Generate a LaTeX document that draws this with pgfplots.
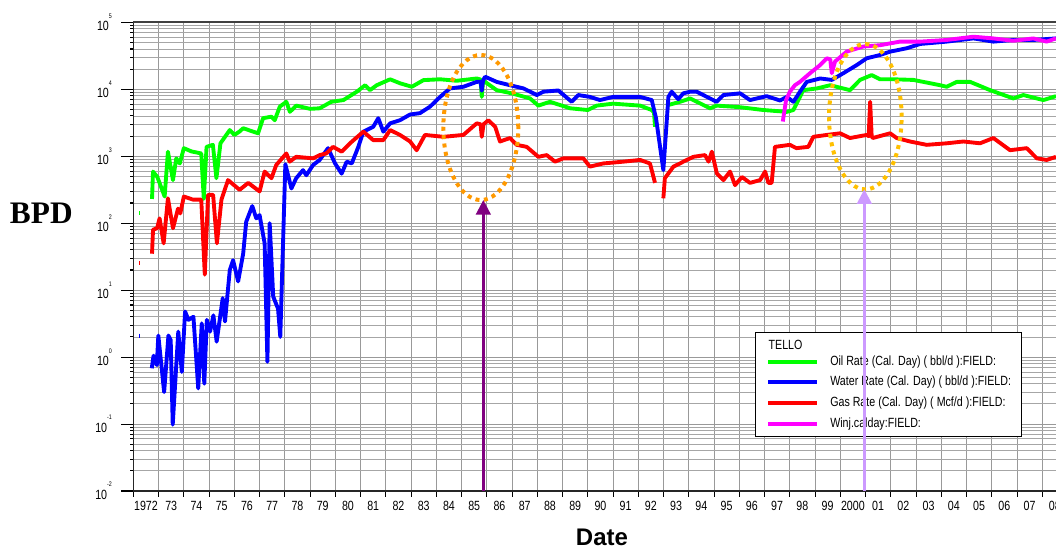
\documentclass[border=0pt]{standalone}
\usepackage{fontspec}
\setmainfont{Liberation Sans}
\newfontfamily\narrowfont{Liberation Sans}[FakeStretch=0.8]
\newfontfamily\bpdfont{Liberation Serif}
\usepackage{pgfplots}
\pgfplotsset{compat=1.18}
\usetikzlibrary{arrows.meta}
\definecolor{oilc}{RGB}{0,255,0}
\definecolor{watc}{RGB}{0,0,255}
\definecolor{gasc}{RGB}{255,0,0}
\definecolor{winc}{RGB}{255,0,255}
\definecolor{orac}{RGB}{255,153,0}
\definecolor{yelc}{RGB}{255,192,0}
\definecolor{purc}{RGB}{128,0,128}
\definecolor{lavc}{RGB}{204,153,255}
\newcommand{\tl}{\narrowfont\fontsize{10}{12}\selectfont}
\newcommand{\ex}[1]{10\raisebox{9.5pt}{\fontsize{5}{6}\selectfont #1}}
\begin{document}
\begin{tikzpicture}
\begin{axis}[
  name=ax, scale only axis, width=692pt, height=351.5pt,
  ymode=log, xmin=1972, xmax=2008.54, ymin=1e-2, ymax=1e5,
  axis lines*=left, axis line style={-, black!85, line width=1.1pt},
  tick align=outside,
  xtick={1972,...,2008},
  xticklabels={1972,73,74,75,76,77,78,79,80,81,82,83,84,85,86,87,88,89,90,91,92,93,94,95,96,97,98,99,2000,01,02,03,04,05,06,07,08},
  minor x tick num=1,
  ytick={1e-2,1e-1,1,1e1,1e2,1e3,1e4,1e5},
  yticklabels={\ex{-2},\ex{-1},\ex{0},\ex{1},\ex{2},\ex{3},\ex{4},\ex{5}},
  major tick length=4.3pt, minor tick length=2.3pt,
  tick style={black, line width=0.8pt},
  grid=both, xminorgrids=false,
  major grid style={gray!80, line width=0.6pt},
  minor grid style={gray!70, line width=0.6pt},
  xticklabel style={font=\tl, xshift=9.47pt},
  yticklabel style={font=\tl, anchor=east, xshift=-8.25pt},
  unbounded coords=jump,
  every axis plot/.append style={line width=2.9pt, line join=round},
]
% Oil
\addplot[oilc] coordinates {(1972.74,230) (1972.78,590) (1972.95,490) (1973.24,250) (1973.37,1170) (1973.57,440) (1973.70,930) (1973.84,780) (1974.0,1320) (1974.3,1180) (1974.69,1100) (1974.79,230) (1974.9,1380) (1975.15,1480) (1975.29,470) (1975.45,1560) (1975.82,2460) (1976.0,2080) (1976.2,2330) (1976.35,2620) (1976.94,2200) (1977.14,3700) (1977.47,3900) (1977.6,3450) (1977.8,5500) (1978.06,6500) (1978.2,4600) (1978.45,5700) (1979.0,5100) (1979.38,5200) (1979.84,6500) (1980.32,6900) (1980.85,9200) (1981.18,11500) (1981.37,9700) (1981.64,11500) (1982.17,14100) (1982.56,12300) (1983.03,10900) (1983.49,13700) (1984.15,14100) (1984.81,13400) (1985.6,14500) (1985.75,14000) (1985.8,7700) (1985.85,13500) (1985.93,12900) (1986.39,9700) (1986.99,8700) (1987.71,7300) (1988.04,5700) (1988.5,6500) (1989.3,5200) (1990.0,4900) (1990.35,5700) (1991.0,6100) (1992.07,5700) (1992.53,4900) (1992.62,4500) (1992.66,2750) (1992.85,nan) (1993.1,5700) (1993.65,6500) (1994.05,7300) (1994.18,6900) (1994.84,5200) (1995.1,5700) (1996.03,5400) (1996.95,4900) (1997.88,4600) (1998.14,4900) (1998.53,9700) (1999.07,10300) (1999.6,11500) (2000.38,9700) (2000.78,13800) (2001.24,16300) (2001.57,14100) (2002.1,14100) (2002.89,13800) (2003.95,11500) (2004.21,10900) (2004.61,12900) (2005.14,12900) (2005.93,9700) (2006.85,7300) (2007.25,8200) (2008.04,6900) (2008.54,7900)};
% Water
\addplot[watc] coordinates {(1972.73,0.68) (1972.8,1.05) (1972.93,0.76) (1972.99,2.1) (1973.22,0.30) (1973.39,2.1) (1973.48,1.8) (1973.56,0.098) (1973.78,2.4) (1973.92,0.60) (1974.05,4.8) (1974.18,3.6) (1974.38,4.0) (1974.57,0.34) (1974.71,3.2) (1974.81,0.40) (1974.91,3.6) (1975.04,2.4) (1975.17,4.2) (1975.3,1.7) (1975.54,7.6) (1975.63,3.4) (1975.82,20) (1975.95,28) (1976.15,13.5) (1976.35,35) (1976.47,105) (1976.71,180) (1976.87,118) (1977.0,132) (1977.2,50) (1977.31,0.85) (1977.4,100) (1977.54,8) (1977.73,5.3) (1977.82,2.0) (1978.02,760) (1978.26,330) (1978.45,470) (1978.72,620) (1978.85,520) (1979.12,740) (1979.38,880) (1979.71,1320) (1979.99,780) (1980.25,550) (1980.45,830) (1980.65,780) (1980.91,1380) (1981.11,2330) (1981.5,2750) (1981.7,3700) (1981.9,2330) (1982.17,3100) (1982.56,3450) (1982.96,4200) (1983.35,4400) (1983.75,5500) (1984.15,7700) (1984.54,10300) (1985.07,10900) (1985.6,12900) (1985.75,13000) (1985.8,9500) (1985.85,13500) (1985.93,15400) (1986.39,12900) (1986.92,11500) (1987.45,10300) (1987.98,8200) (1988.24,9200) (1988.83,9600) (1989.36,6500) (1989.62,8200) (1990.08,7700) (1990.48,6900) (1991.0,7700) (1992.07,7700) (1992.53,6900) (1992.7,3700) (1992.99,620) (1993.19,7700) (1993.32,9200) (1993.58,7100) (1993.78,8700) (1994.05,9200) (1994.31,9200) (1995.1,6500) (1995.37,8200) (1996.03,8700) (1996.42,6900) (1997.08,7900) (1997.61,6800) (1997.88,7700) (1998.14,6500) (1998.4,9200) (1998.67,12900) (1999.2,14500) (1999.66,13800) (2000.12,17400) (2000.65,23000) (2001.04,29000) (2001.57,32500) (2001.97,36500) (2002.63,41000) (2003.16,47500) (2004.21,51500) (2005.27,57500) (2006.06,51500) (2006.85,54500) (2007.64,54500) (2008.54,57500)};
% Gas
\addplot[gasc] coordinates {(1972.74,35) (1972.78,80) (1972.94,84) (1973.04,118) (1973.2,50) (1973.37,235) (1973.57,84) (1973.77,165) (1973.86,140) (1974.0,250) (1974.36,225) (1974.69,225) (1974.83,17) (1974.96,265) (1975.16,265) (1975.31,50) (1975.49,225) (1975.75,440) (1976.21,315) (1976.55,400) (1977.0,298) (1977.2,590) (1977.47,470) (1977.66,740) (1978.06,1100) (1978.19,830) (1978.45,980) (1979.12,930) (1979.38,1040) (1979.64,1100) (1979.91,1380) (1980.25,1170) (1980.58,1560) (1981.11,2330) (1981.5,1740) (1981.9,1740) (1982.17,2460) (1982.56,2080) (1982.96,1660) (1983.22,1230) (1983.55,2080) (1984.28,1950) (1985.07,2080) (1985.6,3100) (1985.75,3000) (1985.8,1950) (1985.87,3000) (1986.06,3450) (1986.33,2750) (1986.52,1660) (1986.92,1870) (1987.18,1480) (1987.58,1380) (1988.04,980) (1988.37,1040) (1988.7,830) (1989.03,930) (1989.82,930) (1990.08,700) (1990.61,780) (1991.41,830) (1992.07,880) (1992.46,780) (1992.66,400) (1992.85,nan) (1992.99,235) (1993.05,470) (1993.39,700) (1993.65,780) (1993.78,830) (1994.18,980) (1994.64,1040) (1994.78,830) (1994.91,1170) (1995.11,550) (1995.37,440) (1995.63,590) (1995.83,370) (1996.1,490) (1996.42,400) (1996.82,440) (1997.02,590) (1997.15,400) (1997.28,400) (1997.41,1380) (1998.0,1480) (1998.26,1320) (1998.73,1380) (1998.93,1950) (1999.46,2080) (1999.99,2200) (2000.38,1870) (2001.04,2080) (2001.12,2000) (2001.18,6500) (2001.24,2000) (2001.28,1870) (2001.97,2200) (2002.23,1870) (2002.76,1660) (2003.42,1480) (2004.21,1560) (2004.87,1660) (2005.53,1560) (2006.06,1870) (2006.72,1230) (2007.38,1320) (2007.78,930) (2008.17,880) (2008.54,980)};
% Winj
\addplot[winc] coordinates {(1997.72,3300) (1997.85,6900) (1998.0,9200) (1998.2,11500) (1998.4,12900) (1998.8,17400) (1999.2,23000) (1999.46,29000) (1999.6,28000) (1999.66,17400) (1999.79,26000) (2000.25,36500) (2000.91,43500) (2001.57,45500) (2002.36,51500) (2003.16,51500) (2004.21,54500) (2005.27,61000) (2006.06,57500) (2006.85,53000) (2007.64,57500) (2008.17,51500) (2008.54,57500)};
% isolated marks
\addplot[oilc, only marks, mark=|, mark size=1.5pt, mark options={line width=0.8pt}] coordinates {(1972.24,140)};
\addplot[gasc, only marks, mark=|, mark size=1.5pt, mark options={line width=0.8pt}] coordinates {(1972.24,25)};
\addplot[watc, only marks, mark=|, mark size=1.5pt, mark options={line width=0.8pt}] coordinates {(1972.24,2.1)};
\coordinate (O) at (rel axis cs:0,0);
\end{axis}
% top line and decade ticks
\draw[black!75, line width=1.6pt] ([yshift=351.5pt]O) -- ++(692pt,0);
\foreach \k in {0,...,7} \draw[black, line width=0.8pt] ([yshift=\k*50.2143pt]O) -- ++(-9pt,0);
% axis titles
\node[font=\bpdfont\bfseries\fontsize{23.5}{26}\selectfont] at ([shift={(-69pt,208pt)}]O) {BPD};
\node[font=\bfseries\fontsize{18}{20}\selectfont, inner sep=0pt, anchor=base] at ([shift={(351.5pt,-40.8pt)}]O) {Date};
% legend
\draw[black, line width=1pt, fill=white] ([shift={(466.8pt,40.7pt)}]O) rectangle ([shift={(666.3pt,118.7pt)}]O);
\node[font=\tl, anchor=west, inner sep=0pt] at ([shift={(476.3pt,109.5pt)}]O) {TELLO};
\draw[oilc, line width=3pt] ([shift={(476.3pt,97pt)}]O) -- ++(36.7pt,0);
\draw[watc, line width=3pt] ([shift={(476.3pt,81.5pt)}]O) -- ++(36.7pt,0);
\draw[gasc, line width=3pt] ([shift={(476.3pt,65.8pt)}]O) -- ++(36.7pt,0);
\draw[winc, line width=3pt] ([shift={(476.3pt,50pt)}]O) -- ++(36.7pt,0);
\node[font=\tl, anchor=west, inner sep=0pt] at ([shift={(522.5pt,97pt)}]O) {Oil Rate (Cal. Day) ( bbl/d ):FIELD:};
\node[font=\tl, anchor=west, inner sep=0pt] at ([shift={(522.5pt,81.5pt)}]O) {Water Rate (Cal. Day) ( bbl/d ):FIELD:};
\node[font=\tl, anchor=west, inner sep=0pt] at ([shift={(522.5pt,65.8pt)}]O) {Gas Rate (Cal. Day) ( Mcf/d ):FIELD:};
\node[font=\tl, anchor=west, inner sep=0pt] at ([shift={(522.5pt,50pt)}]O) {Winj.calday:FIELD:};
% annotations
\draw[orac, line width=3pt, dash pattern=on 3pt off 3.3pt] ([shift={(260.6pt,272.6pt)}]O) ellipse [x radius=28.1pt, y radius=54.4pt];
\draw[yelc, line width=3pt, dash pattern=on 3pt off 3.3pt] ([shift={(549pt,280.7pt)}]O) ellipse [x radius=27.2pt, y radius=54.5pt];
\draw[purc, line width=2pt, -{Triangle[width=11pt,length=11pt]}] ([xshift=262.5pt]O) -- ++(0,218.25pt);
\draw[lavc, line width=2pt, -{Triangle[width=11pt,length=11pt]}] ([xshift=548.25pt]O) -- ++(0,226.3pt);
\pgfresetboundingbox
\path[use as bounding box] ([shift={(-100pt,-42.75pt)}]O) rectangle ++(792pt,411pt);
\end{tikzpicture}
\end{document}
